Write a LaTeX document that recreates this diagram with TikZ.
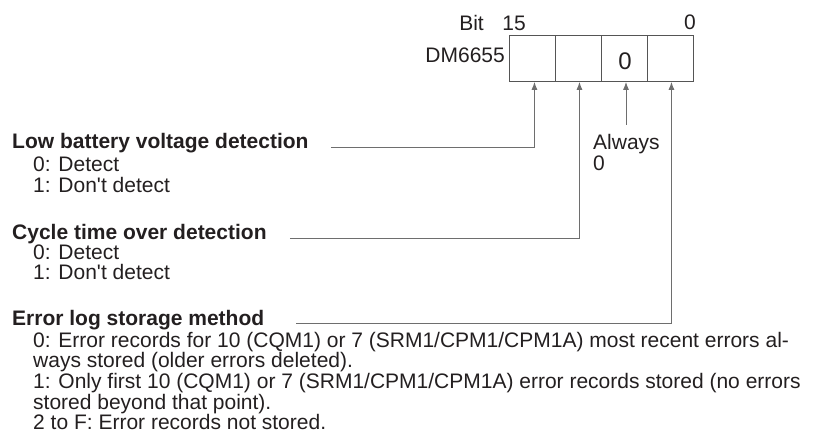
\documentclass[tikz,border=0pt]{standalone}
\usepackage{fontspec}
\setmainfont{Liberation Sans}
\usetikzlibrary{arrows.meta,positioning}
\definecolor{linegray}{HTML}{6E6E6E}
\definecolor{boxgray}{HTML}{555555}
\definecolor{inkblack}{HTML}{231F20}
\newcommand{\lines}[1]{\parbox[t]{770pt}{\raggedright #1}}

\begin{document}
\begin{tikzpicture}[
  x=1pt,y=-1pt,
  every node/.style={text=inkblack,font=\fontsize{21}{20.7}\selectfont},
  cell/.style={draw=boxgray,line width=0.9pt,minimum width=46pt,minimum height=46pt,inner sep=0pt,anchor=north west},
  head/.style={anchor=base west,font=\fontsize{21}{20.7}\selectfont\bfseries,inner sep=0pt},
  desc/.style={anchor=base west,inner sep=0pt},
  arrow/.style={-{Latex[length=8pt,width=6pt]},draw=linegray,line width=0.9pt}
]
\useasboundingbox (0,0) rectangle (813,438);
% register cells
\node[cell] (cA) at (509,35) {};
\node[cell] (cB) at (555,35) {};
\node[cell] (cC) at (601,35) {};
\node[cell] (cD) at (647,35) {};
\node[anchor=base,inner sep=0pt,font=\fontsize{24}{24}\selectfont] (zero) at (625,70) {0};
\node[anchor=base east,inner sep=0pt] (dm) at (505,63) {DM6655};
\node[anchor=base east,inner sep=0pt] (bit) at (484,31) {Bit};
\node[anchor=base,inner sep=0pt] (msb) at (514,31) {15};
\node[anchor=base,inner sep=0pt] (lsb) at (690,30) {0};
% fixed bit
\node[desc] (always) at (593,150) {\parbox[t]{80pt}{Always\\0}};
\coordinate (alwaystop) at (626,125);
\draw[arrow] (alwaystop) -- (alwaystop |- cC.south);
% settings
\node[head] (lowbat) at (12,149) {Low battery voltage detection};
\node[desc] (lowbatd) at (33,172) {\lines{0: Detect\\1: Don\textquotesingle t detect}};
\node[head] (cycle) at (12,240) {Cycle time over detection};
\node[desc] (cycled) at (33,259) {\lines{0: Detect\\1: Don\textquotesingle t detect}};
\node[head] (errlog) at (12,325) {Error log storage method};
\node[desc] (errlogd) at (33,347) {\lines{0: Error records for 10 (CQM1) or 7 (SRM1/CPM1/CPM1A) most recent errors al-\\ways stored (older errors deleted).\\1: Only first 10 (CQM1) or 7 (SRM1/CPM1/CPM1A) error records stored (no errors\\stored beyond that point).\\2 to F: Error records not stored.}};
\draw[arrow] ([xshift=22pt]lowbat.base east) ++(0,-2) -| ([xshift=2pt]cA.south);
\draw[arrow] ([xshift=23pt]cycle.base east) ++(0,-2) -| ([xshift=1pt]cB.south);
\draw[arrow] ([xshift=32pt]errlog.base east) ++(0,-2) -| ([xshift=1pt]cD.south);
\end{tikzpicture}
\end{document}
